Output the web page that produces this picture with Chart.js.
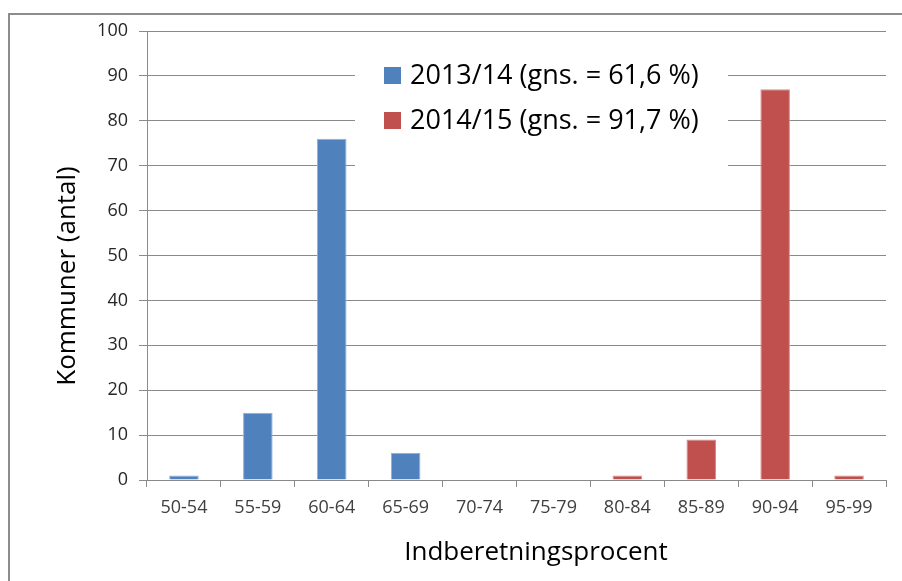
<!DOCTYPE html>
<html>
<head>
<meta charset="utf-8">
<script src="https://cdn.jsdelivr.net/npm/chart.js@4"></script>
<style>
  html, body { margin: 0; padding: 0; background: #fff; }
  #wrap { width: 902px; height: 581px; }
</style>
</head>
<body>
<div id="wrap"><canvas id="myChart" width="902" height="581"></canvas></div>
<script>
var categories = ['50-54', '55-59', '60-64', '65-69', '70-74', '75-79', '80-84', '85-89', '90-94', '95-99'];
var values1314 = [1, 15, 76, 6, 0, 0, 0, 0, 0, 0];
var values1415 = [0, 0, 0, 0, 0, 0, 1, 9, 87, 1];
var seriesLabels = ['2013/14 (gns. = 61,6 %)', '2014/15 (gns. = 91,7 %)'];
var yTitle = 'Kommuner (antal)';
var xTitle = 'Indberetningsprocent';

var gridColor = '#8a8a8a';

// frame, axis titles and the legend box inside the plot
var extras = {
    id: 'extras',
    beforeDraw: function (chart) {
        var ctx = chart.ctx;
        ctx.save();
        ctx.strokeStyle = '#8c8c8c';
        ctx.lineWidth = 2;
        ctx.beginPath();
        ctx.moveTo(9, 581);
        ctx.lineTo(9, 14);
        ctx.lineTo(902, 14);
        ctx.stroke();
        ctx.restore();
    },
    afterDraw: function (chart) {
        var ctx = chart.ctx;
        var area = chart.chartArea;
        ctx.save();

        // axis titles
        ctx.fillStyle = '#000';
        ctx.font = '26px "Open Sans"';
        ctx.textAlign = 'center';
        ctx.textBaseline = 'middle';
        ctx.fillText(xTitle, area.left + 389, 553);
        ctx.translate(68, area.top + 245);
        ctx.rotate(-Math.PI / 2);
        ctx.fillText(yTitle, 0, 0);
        ctx.setTransform(1, 0, 0, 1, 0, 0);

        // legend
        var lx = area.left + 208;
        var ly = area.top + 24;
        ctx.fillStyle = '#fff';
        ctx.fillRect(lx, ly, 373, 112);
        ctx.font = '27px "Open Sans"';
        ctx.textAlign = 'left';
        chart.data.datasets.forEach(function (ds, i) {
            var cy = area.top + 44 + i * 45;
            ctx.fillStyle = ds.backgroundColor;
            ctx.fillRect(lx + 29, cy - 8, 17, 17);
            ctx.fillStyle = '#000';
            ctx.fillText(ds.label, lx + 55, cy + 1);
        });
        ctx.restore();
    }
};

var ctx = document.getElementById('myChart').getContext('2d');
var myChart = new Chart(ctx, {
    type: 'bar',
    data: {
        labels: categories,
        datasets: [
            {
                label: seriesLabels[0],
                data: values1314,
                backgroundColor: '#4f81bd',
                borderColor: '#8fb0da',
                borderWidth: 1,
                barPercentage: 0.4,
                categoryPercentage: 1
            },
            {
                label: seriesLabels[1],
                data: values1415,
                backgroundColor: '#c0504d',
                borderColor: '#da8c8a',
                borderWidth: 1,
                barPercentage: 0.4,
                categoryPercentage: 1
            }
        ]
    },
    plugins: [extras],
    options: {
        responsive: false,
        animation: false,
        layout: {
            padding: { top: 31, right: 16, bottom: 0, left: 0 }
        },
        scales: {
            x: {
                stacked: true,
                grid: {
                    offset: true,
                    drawOnChartArea: false,
                    drawTicks: true,
                    tickLength: 7,
                    color: gridColor
                },
                border: { color: gridColor, width: 1 },
                ticks: {
                    color: '#404040',
                    font: { family: 'Open Sans', size: 18 },
                    padding: 10,
                    maxRotation: 0,
                    autoSkip: false
                },
                afterFit: function (scale) { scale.height = 101; }
            },
            y: {
                stacked: true,
                min: 0,
                max: 100,
                ticks: {
                    stepSize: 10,
                    color: '#262626',
                    font: { family: 'Open Sans', size: 18 },
                    padding: 11
                },
                grid: {
                    color: gridColor,
                    tickLength: 8
                },
                border: { color: gridColor, width: 1 },
                afterFit: function (scale) { scale.width = 147; }
            }
        },
        plugins: {
            legend: { display: false },
            tooltip: { enabled: false },
            title: { display: false }
        }
    }
});
</script>
</body>
</html>
